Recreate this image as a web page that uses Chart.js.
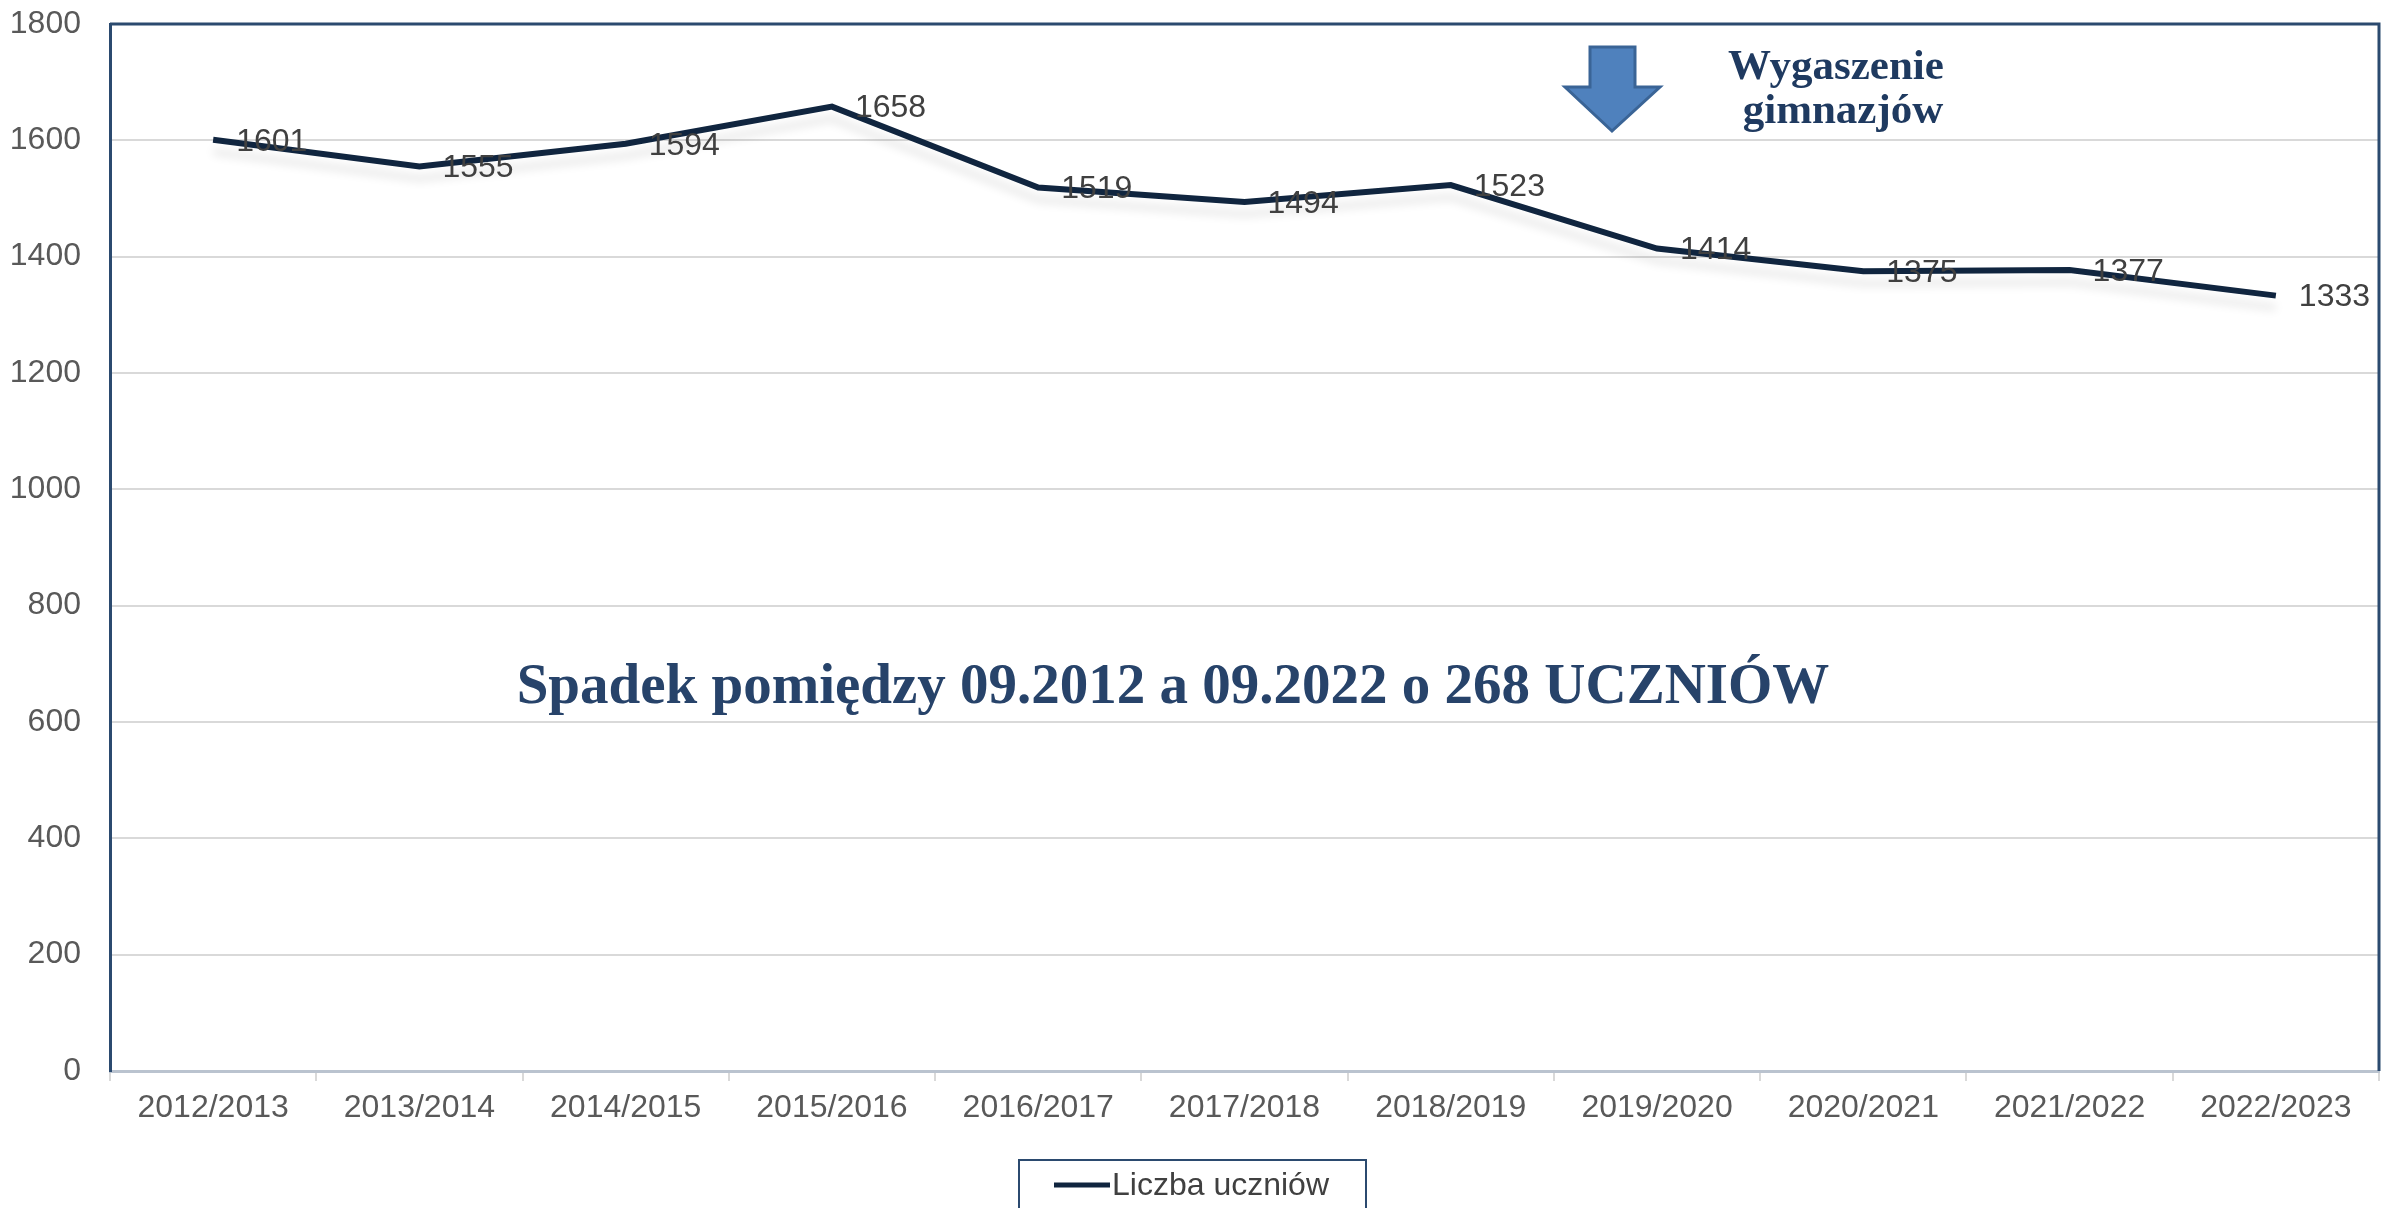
<!DOCTYPE html>
<html>
<head>
<meta charset="utf-8">
<script src="https://cdn.jsdelivr.net/npm/chart.js@4.4.0/dist/chart.umd.min.js"></script>
<style>
  html, body { margin: 0; padding: 0; background: #fff; }
</style>
</head>
<body>
<canvas id="wykres" width="2381" height="1208"></canvas>
<script>
// dane
const lata = ["2012/2013", "2013/2014", "2014/2015", "2015/2016", "2016/2017", "2017/2018",
  "2018/2019", "2019/2020", "2020/2021", "2021/2022", "2022/2023"];
const liczbaUczniow = [1601, 1555, 1594, 1658, 1519, 1494, 1523, 1414, 1375, 1377, 1333];
const nazwaSerii = "Liczba uczniów";
const osY = { min: 0, max: 1800, krok: 200 };
const opisSpadku = "Spadek pomiędzy 09.2012 a 09.2022 o 268 UCZNIÓW";
const opisGimnazjow = ["Wygaszenie", "gimnazjów"];

const kolorLinii = "#10253F";
const granat = "#2B4A6F";

// ramka wykresu (gora i prawa strona)
const ramka = {
  id: "ramka",
  afterDraw(chart) {
    const { ctx, chartArea: a } = chart;
    ctx.save();
    ctx.strokeStyle = granat;
    ctx.lineWidth = 3;
    ctx.beginPath();
    ctx.moveTo(a.left, a.top);
    ctx.lineTo(a.right, a.top);
    ctx.lineTo(a.right, a.bottom);
    ctx.stroke();
    ctx.restore();
  }
};

// cien pod linia
const cien = {
  id: "cien",
  beforeDatasetDraw(chart) {
    const ctx = chart.ctx;
    ctx.save();
    ctx.shadowColor = "rgba(0,0,0,0.10)";
    ctx.shadowBlur = 10;
    ctx.shadowOffsetY = 12;
  },
  afterDatasetDraw(chart) {
    chart.ctx.restore();
  }
};

// etykiety wartosci
const etykiety = {
  id: "etykiety",
  afterDatasetsDraw(chart) {
    const ctx = chart.ctx;
    const meta = chart.getDatasetMeta(0);
    ctx.save();
    ctx.font = '32px "Liberation Sans", Arial, sans-serif';
    ctx.fillStyle = "#404040";
    ctx.textAlign = "left";
    ctx.textBaseline = "middle";
    meta.data.forEach((p, i) => {
      ctx.fillText(String(chart.data.datasets[0].data[i]), p.x + 23, p.y + 2);
    });
    ctx.restore();
  }
};

// napisy, strzalka, legenda
const adnotacje = {
  id: "adnotacje",
  afterDraw(chart) {
    const ctx = chart.ctx;
    ctx.save();

    // strzalka
    ctx.beginPath();
    ctx.moveTo(1590, 47);
    ctx.lineTo(1635, 47);
    ctx.lineTo(1635, 87);
    ctx.lineTo(1660, 87);
    ctx.lineTo(1612, 131);
    ctx.lineTo(1565, 87);
    ctx.lineTo(1590, 87);
    ctx.closePath();
    ctx.fillStyle = "#4F81BD";
    ctx.fill();
    ctx.strokeStyle = "#3A6496";
    ctx.lineWidth = 3;
    ctx.stroke();

    ctx.fillStyle = "#1F3A60";
    ctx.textAlign = "center";
    ctx.textBaseline = "alphabetic";
    ctx.font = 'bold 43px "Liberation Serif", "Times New Roman", serif';
    ctx.fillText(opisGimnazjow[0], 1836, 79);
    ctx.fillText(opisGimnazjow[1], 1843, 123);

    ctx.fillStyle = "#27436A";
    ctx.font = 'bold 57px "Liberation Serif", "Times New Roman", serif';
    ctx.fillText(opisSpadku, 1173, 703);

    // legenda
    ctx.strokeStyle = granat;
    ctx.lineWidth = 2;
    ctx.strokeRect(1019, 1160, 347, 60);
    ctx.strokeStyle = kolorLinii;
    ctx.lineWidth = 5;
    ctx.beginPath();
    ctx.moveTo(1054, 1185);
    ctx.lineTo(1110, 1185);
    ctx.stroke();
    ctx.fillStyle = "#404040";
    ctx.textAlign = "left";
    ctx.textBaseline = "middle";
    ctx.font = '32px "Liberation Sans", Arial, sans-serif';
    ctx.fillText(nazwaSerii, 1112, 1186);

    ctx.restore();
  }
};

const ctx = document.getElementById("wykres").getContext("2d");
const wykres = new Chart(ctx, {
  type: "line",
  data: {
    labels: lata,
    datasets: [{
      label: nazwaSerii,
      data: liczbaUczniow,
      borderColor: kolorLinii,
      backgroundColor: kolorLinii,
      borderWidth: 6,
      pointRadius: 0,
      tension: 0,
      fill: false
    }]
  },
  options: {
    responsive: false,
    animation: false,
    devicePixelRatio: 1,
    layout: { padding: { top: 24, right: 2, bottom: 0, left: 0 } },
    plugins: {
      legend: { display: false },
      tooltip: { enabled: false }
    },
    scales: {
      x: {
        offset: true,
        grid: {
          offset: true,
          drawOnChartArea: false,
          drawTicks: true,
          tickLength: 10,
          color: "#D9D9D9",
          lineWidth: 2
        },
        border: { display: true, color: "#BAC3CF", width: 3 },
        ticks: {
          color: "#595959",
          font: { family: '"Liberation Sans", Arial, sans-serif', size: 32 },
          padding: 8,
          maxRotation: 0,
          autoSkip: false
        },
        afterFit(s) { s.height = 137; }
      },
      y: {
        min: osY.min,
        max: osY.max,
        grid: {
          color: "#D9D9D9",
          lineWidth: 2,
          drawTicks: false
        },
        border: { display: true, color: granat, width: 3 },
        ticks: {
          stepSize: osY.krok,
          color: "#595959",
          font: { family: '"Liberation Sans", Arial, sans-serif', size: 32 },
          padding: 29,
          callback: (v) => String(v)
        },
        afterFit(s) {
          s.width = 110;
          s.paddingTop = 0;
          s.paddingBottom = 0;
        }
      }
    }
  },
  plugins: [cien, etykiety, ramka, adnotacje]
});
</script>
</body>
</html>
